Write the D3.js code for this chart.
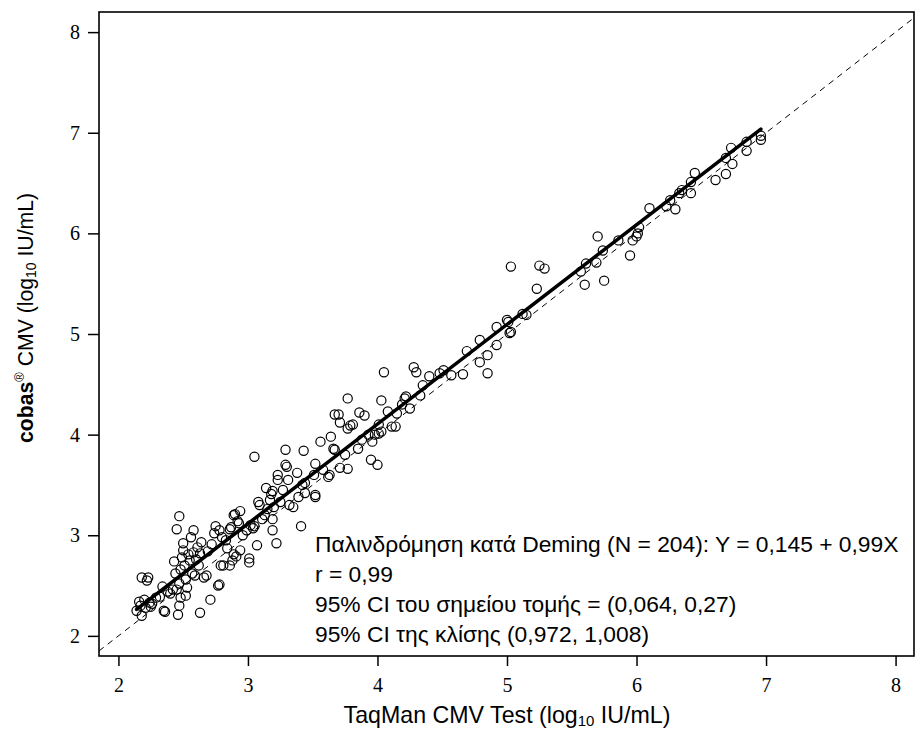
<!DOCTYPE html>
<html>
<head>
<meta charset="utf-8">
<script src="https://cdn.jsdelivr.net/npm/d3@7"></script>
<style>
  body { margin: 0; background: #fff; }
  svg { display: block; }
</style>
</head>
<body>
<div id="chart"></div>
<script>
// TaqMan (x) vs cobas (y), log10 IU/mL
const taqman = [
  2.14, 2.16, 2.17, 2.18, 2.18, 2.20, 2.21, 2.22, 2.23, 2.24, 2.25, 2.26, 2.29,
  2.32, 2.34, 2.35, 2.36, 2.38, 2.40, 2.42, 2.43, 2.44,
  2.45, 2.47, 2.46, 2.47, 2.48, 2.45, 2.47, 2.48, 2.49, 2.50, 2.50, 2.51, 2.52, 2.52, 2.53, 2.54, 2.55, 2.56, 2.57, 2.58, 2.58, 2.59, 2.60, 2.61, 2.62, 2.63, 2.63, 2.64,
  2.66, 2.68, 2.69, 2.71, 2.72, 2.74, 2.75, 2.77, 2.78, 2.78, 2.79, 2.80, 2.81, 2.83, 2.84, 2.86, 2.86, 2.87,
  2.88, 2.89, 2.89, 2.90, 2.91, 2.92, 2.93, 2.94, 2.94, 2.96, 2.99, 3.01, 3.01, 3.02, 3.04, 3.05, 3.05,
  3.07, 3.08, 3.09, 3.11, 3.13, 3.14, 3.15, 3.17, 3.18, 3.19, 3.19, 3.19, 3.20, 3.22, 3.23, 3.23, 3.25,
  3.27, 3.29, 3.29, 3.30, 3.31, 3.32, 3.35, 3.38, 3.39, 3.41, 3.42, 3.43, 3.44, 3.44,
  3.51, 3.52, 3.52, 3.52, 3.56, 3.58, 3.62, 3.63, 3.64, 3.66, 3.67, 3.67, 3.70,
  3.71, 3.71, 3.75, 3.77, 3.77, 3.77, 3.79, 3.81, 3.85, 3.86, 3.88, 3.90, 3.93, 3.95, 3.96, 3.98, 4.00,
  4.01, 4.01, 4.03, 4.03, 4.05, 4.08, 4.11, 4.14, 4.15, 4.19, 4.21, 4.22, 4.25, 4.28, 4.30, 4.33, 4.35,
  4.40, 4.48, 4.51, 4.57, 4.66, 4.69, 4.79, 4.79, 4.85, 4.85, 4.92, 4.92,
  5.00, 5.01, 5.02, 5.03, 5.03, 5.12, 5.15, 5.23, 5.25, 5.29, 5.57, 5.60, 5.61, 5.69, 5.70, 5.74, 5.75,
  5.86, 5.95, 5.97, 6.00, 6.01, 6.02, 6.10, 6.23, 6.26, 6.30, 6.33, 6.35, 6.42, 6.42, 6.45, 6.61, 6.69, 6.74, 6.69, 6.73, 6.85, 6.85, 6.96, 6.96
]
const cobas = [
  2.25, 2.34, 2.30, 2.58, 2.20, 2.36, 2.28, 2.55, 2.58, 2.33, 2.29, 2.32, 2.38,
  2.39, 2.49, 2.25, 2.24, 2.44, 2.42, 2.46, 2.74, 2.62,
  3.06, 3.19, 2.21, 2.30, 2.38, 2.46, 2.52, 2.66, 2.78, 2.85, 2.92, 2.70, 2.56, 2.40, 2.48, 2.81, 2.75, 2.98, 2.62, 3.05, 2.83, 2.60, 2.76, 2.88, 2.70, 2.23, 2.82, 2.93,
  2.58, 2.60, 2.84, 2.36, 2.91, 3.02, 3.09, 2.50, 2.51, 3.05, 2.70, 2.98, 2.70, 2.95, 2.87, 2.70, 3.06, 3.08,
  2.75, 2.81, 3.20, 3.21, 2.79, 3.14, 3.12, 2.85, 3.24, 3.00, 3.05, 2.77, 2.73, 3.10, 3.07, 3.78, 3.09,
  2.90, 3.33, 3.30, 3.16, 3.20, 3.47, 3.26, 3.35, 3.41, 3.44, 3.16, 3.05, 3.28, 2.92, 3.60, 3.55, 3.33,
  3.45, 3.85, 3.70, 3.68, 3.55, 3.30, 3.28, 3.62, 3.38, 3.09, 3.50, 3.84, 3.42, 3.52,
  3.60, 3.40, 3.38, 3.71, 3.93, 3.65, 3.58, 3.60, 3.98, 3.86, 3.85, 4.20, 4.20,
  3.67, 4.12, 3.80, 3.66, 4.36, 4.06, 4.09, 4.10, 3.86, 4.22, 3.95, 4.19, 4.00, 3.75, 3.93, 4.00, 3.70,
  4.10, 4.01, 4.03, 4.34, 4.62, 4.23, 4.08, 4.08, 4.21, 4.30, 4.36, 4.38, 4.26, 4.67, 4.62, 4.39, 4.49,
  4.58, 4.61, 4.64, 4.59, 4.60, 4.83, 4.94, 4.72, 4.79, 4.61, 5.07, 4.89,
  5.14, 5.12, 5.01, 5.02, 5.67, 5.20, 5.19, 5.45, 5.68, 5.65, 5.62, 5.49, 5.70, 5.71, 5.97, 5.83, 5.53,
  5.93, 5.78, 5.93, 5.97, 6.00, 6.06, 6.25, 6.27, 6.33, 6.24, 6.40, 6.43, 6.40, 6.51, 6.60, 6.53, 6.59, 6.69, 6.75, 6.85, 6.82, 6.91, 6.97, 6.93
]
const xTicks = [2, 3, 4, 5, 6, 7, 8]
const yTicks = [2, 3, 4, 5, 6, 7, 8]
const intercept = 0.145
const slope = 0.99
const notes = [
  "Παλινδρόμηση κατά Deming (N = 204): Y = 0,145 + 0,99X",
  "r = 0,99",
  "95% CI του σημείου τομής = (0,064, 0,27)",
  "95% CI της κλίσης (0,972, 1,008)"
]

const width = 916, height = 732
const margin = { top: 12, right: 1, bottom: 76, left: 99 }

const x = d3.scaleLinear().domain([1.85, 8.15]).range([margin.left, width - margin.right])
const y = d3.scaleLinear().domain([1.8, 8.2]).range([height - margin.bottom, margin.top])

const svg = d3.select("#chart").append("svg")
  .attr("width", width)
  .attr("height", height)

const points = taqman.map((v, i) => [v, cobas[i]])

// identity line
const lo = Math.max(x.domain()[0], y.domain()[0])
const hi = Math.min(x.domain()[1], y.domain()[1])
svg.append("line")
  .attr("x1", x(lo)).attr("y1", y(lo))
  .attr("x2", x(hi)).attr("y2", y(hi))
  .attr("stroke", "#000")
  .attr("stroke-width", 1)
  .attr("stroke-dasharray", "6,5")

// circles
svg.append("g")
  .selectAll("circle")
  .data(points)
  .join("circle")
    .attr("cx", d => x(d[0]))
    .attr("cy", d => y(d[1]))
    .attr("r", 4.6)
    .attr("fill", "none")
    .attr("stroke", "#000")
    .attr("stroke-width", 1.2)

// Deming fit, over the range of the data
const [xmin, xmax] = d3.extent(taqman)
svg.append("line")
  .attr("x1", x(xmin)).attr("y1", y(intercept + slope * xmin))
  .attr("x2", x(xmax)).attr("y2", y(intercept + slope * xmax))
  .attr("stroke", "#000")
  .attr("stroke-width", 3.5)
  .attr("stroke-linecap", "round")

// frame
svg.append("rect")
  .attr("x", margin.left)
  .attr("y", margin.top)
  .attr("width", width - margin.left - margin.right - 1)
  .attr("height", height - margin.top - margin.bottom)
  .attr("fill", "none")
  .attr("stroke", "#000")
  .attr("stroke-width", 1.6)

// axes
const xAxis = svg.append("g")
  .attr("transform", `translate(0,${height - margin.bottom})`)
  .call(d3.axisBottom(x).tickValues(xTicks).tickFormat(d3.format("d")).tickSize(10).tickPadding(12))
const yAxis = svg.append("g")
  .attr("transform", `translate(${margin.left},0)`)
  .call(d3.axisLeft(y).tickValues(yTicks).tickFormat(d3.format("d")).tickSize(11).tickPadding(8))

for (const ax of [xAxis, yAxis]) {
  ax.select(".domain").remove()
  ax.selectAll(".tick line").attr("stroke", "#000").attr("stroke-width", 1.5)
  ax.selectAll(".tick text")
    .attr("fill", "#000")
    .attr("font-family", "'Liberation Serif', 'Times New Roman', serif")
    .attr("font-size", 20)
}

const sans = "'Liberation Sans', Arial, sans-serif"

// x title
const xt = svg.append("text")
  .attr("x", (margin.left + width - margin.right) / 2)
  .attr("y", 723)
  .attr("text-anchor", "middle")
  .attr("font-family", sans)
  .attr("font-size", 23.2)
xt.append("tspan").text("TaqMan CMV Test (log")
xt.append("tspan").attr("font-size", 15).attr("dy", 3).text("10")
xt.append("tspan").attr("dy", -3).text(" IU/mL)")

// y title
const yt = svg.append("text")
  .attr("transform", "translate(33,318) rotate(-90)")
  .attr("text-anchor", "middle")
  .attr("font-family", sans)
  .attr("font-size", 21.2)
yt.append("tspan").attr("font-weight", "bold").text("cobas")
yt.append("tspan").attr("font-size", 13).attr("dy", -9).text("®")
yt.append("tspan").attr("dy", 9).text(" CMV (log")
yt.append("tspan").attr("font-size", 14).attr("dy", 3).text("10")
yt.append("tspan").attr("dy", -3).text(" IU/mL)")

// regression notes
svg.append("g")
  .selectAll("text")
  .data(notes)
  .join("text")
    .attr("x", 315)
    .attr("y", (d, i) => 551.5 + i * 30)
    .attr("font-family", sans)
    .attr("font-size", 22.8)
    .attr("fill", "#000")
    .text(d => d)
</script>
</body>
</html>
